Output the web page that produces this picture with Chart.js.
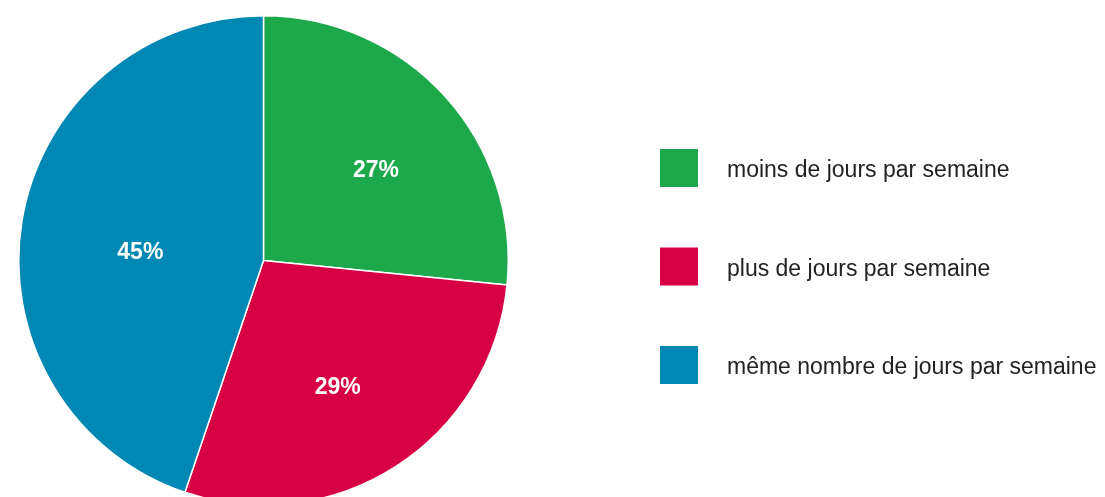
<!DOCTYPE html>
<html>
<head>
<meta charset="utf-8">
<script src="https://cdn.jsdelivr.net/npm/chart.js@4"></script>
<style>
  html, body { margin: 0; padding: 0; overflow: hidden; background: #fff; }
  #wrap { position: relative; width: 1105px; height: 521px; }
</style>
</head>
<body>
<div id="wrap"><canvas id="myChart"></canvas></div>
<script>
'use strict';

const categories = ['moins de jours par semaine', 'plus de jours par semaine', 'même nombre de jours par semaine'];
const shares = [26.6, 28.6, 44.8];
const shareLabels = ['27%', '29%', '45%'];
const colors = ['rgb(28, 168, 75)', 'rgb(215, 0, 68)', 'rgb(0, 136, 180)'];

// percent text inside each slice
const sliceLabels = {
  id: 'sliceLabels',
  afterDatasetsDraw(chart, args, opts) {
    const c = chart.ctx;
    const arcs = chart.getDatasetMeta(0).data;
    c.save();
    c.font = 'bold 23px "Liberation Sans", Arial, sans-serif';
    c.fillStyle = '#fff';
    c.textAlign = 'center';
    c.textBaseline = 'middle';
    arcs.forEach((arc, i) => {
      const mid = (arc.startAngle + arc.endAngle) / 2;
      const r = arc.outerRadius * opts.radius[i];
      c.fillText(shareLabels[i], arc.x + Math.cos(mid) * r, arc.y + Math.sin(mid) * r + opts.dy);
    });
    c.restore();
  }
};

// legend on the right, drawn by hand for the wide spacing
const sideLegend = {
  id: 'sideLegend',
  afterDraw(chart) {
    const c = chart.ctx;
    c.save();
    c.font = '23px "Liberation Sans", Arial, sans-serif';
    c.textBaseline = 'alphabetic';
    categories.forEach((name, i) => {
      const y = 149 + i * 98.5;
      c.fillStyle = colors[i];
      c.fillRect(660, y, 38, 38);
      c.fillStyle = '#222';
      c.fillText(name, 727, y + 28);
    });
    c.restore();
  }
};

new Chart(document.getElementById('myChart'), {
  type: 'pie',
  data: {
    labels: categories,
    datasets: [{
      data: shares,
      backgroundColor: colors,
      borderColor: '#fff',
      borderWidth: 1.5
    }]
  },
  options: {
    responsive: true,
    maintainAspectRatio: false,
    animation: false,
    layout: { padding: { left: 18, right: 596, top: 15, bottom: 15 } },
    plugins: {
      legend: { display: false },
      tooltip: { enabled: false },
      sliceLabels: { radius: [0.62, 0.56, 0.51], dy: 12 }
    }
  },
  plugins: [sliceLabels, sideLegend]
});
</script>
</body>
</html>
